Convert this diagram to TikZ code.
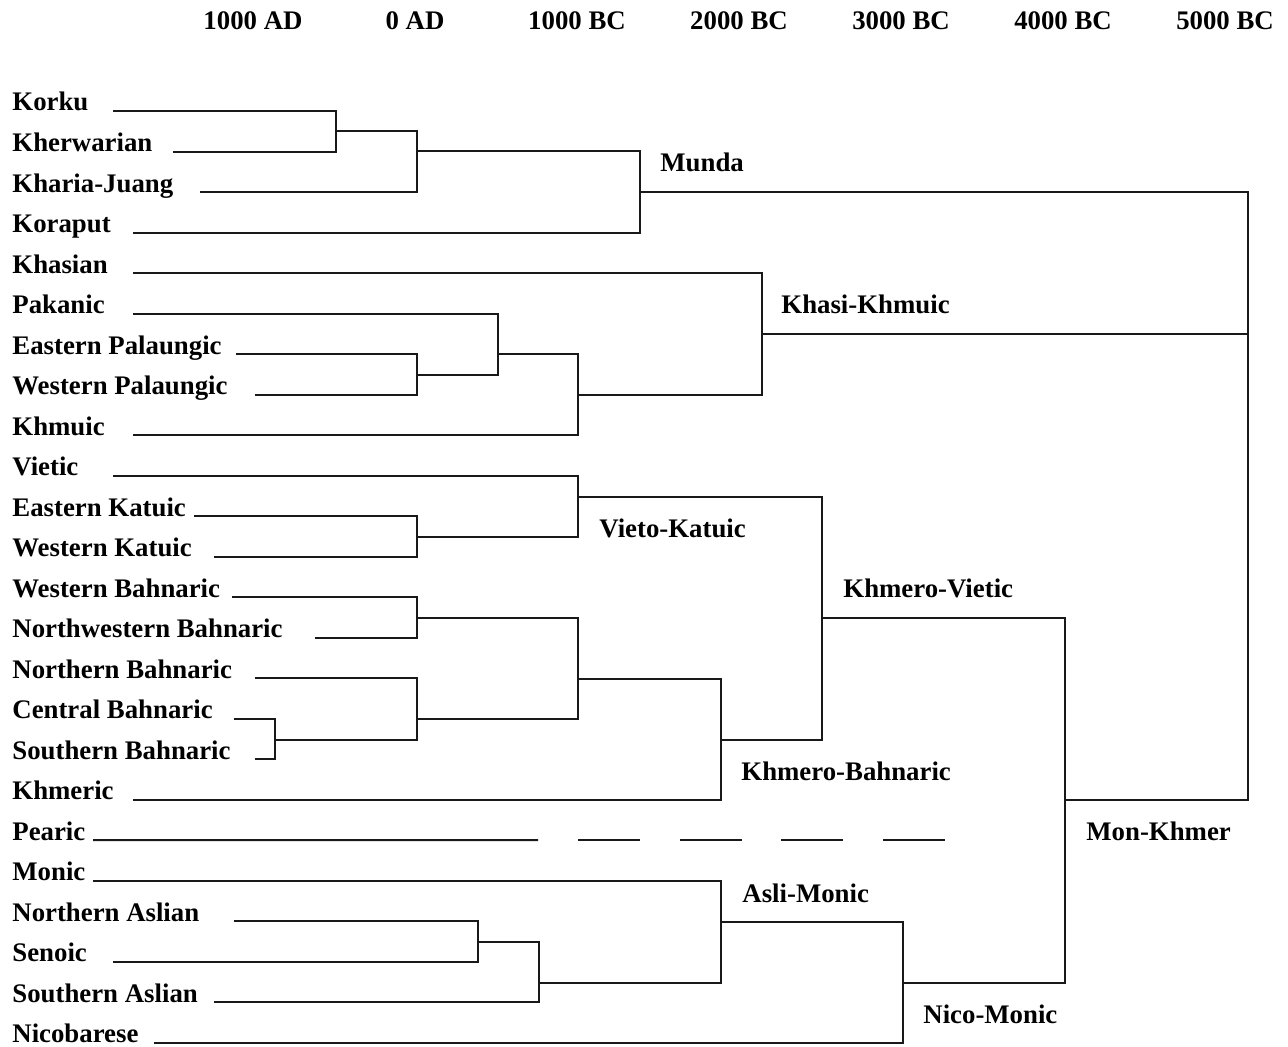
\documentclass[tikz,border=0pt]{standalone}
\usepackage{fontspec}
\setmainfont{Liberation Serif}
\tikzset{
	lang/.style={anchor=base west, inner sep=0pt, font=\fontsize{13.4}{16}\selectfont\bfseries},
	clade/.style={lang},
	era/.style={anchor=base, inner sep=0pt, font=\fontsize{13.4}{16}\selectfont\bfseries},
	branch/.style={line width=1pt, draw=black!90}
}
\begin{document}
\begin{tikzpicture}[x=0.5pt,y=-0.5pt]
				\useasboundingbox (0,0) rectangle (1288,1047);
				
				\foreach \t [count=\i from 0] in {1000 AD,0 AD,1000 BC,2000 BC,3000 BC,4000 BC,5000 BC}
					\node[era] (era\i) at ({253+162*\i},29.5) {\t};
				
				\foreach \n/\t/\sx [count=\i from 0] in {korku/Korku/113, kherw/Kherwarian/173, kharia/Kharia-Juang/200, koraput/Koraput/133, khasian/Khasian/133, pakanic/Pakanic/133, epal/Eastern Palaungic/236, wpal/Western Palaungic/255, khmuic/Khmuic/133, vietic/Vietic/113, ekat/Eastern Katuic/194, wkat/Western Katuic/214, wbah/Western Bahnaric/232, nwbah/Northwestern Bahnaric/315, nbah/Northern Bahnaric/255, cbah/Central Bahnaric/234, sbah/Southern Bahnaric/255, khmeric/Khmeric/133, pearic/Pearic/93, monic/Monic/93, naslian/Northern Aslian/234, senoic/Senoic/113, saslian/Southern Aslian/214, nicob/Nicobarese/154}{
					\node[lang] (\n) at (12,{111+40.51*\i}) {\t};
					\coordinate (\n-s) at (\sx,{111+40.51*\i});
				}
				
				\coordinate (korku-j) at (336,131);
				\coordinate (kherw-j) at (417,151);
				\coordinate (munda-j) at (640,192);
				\coordinate (palaung-j) at (417,375);
				\coordinate (pakan-j) at (498,354);
				\coordinate (khmu-j) at (578,395);
				\coordinate (khasi-j) at (762,334);
				\coordinate (root-j) at (1248,334);
				\coordinate (katu-j) at (417,537);
				\coordinate (vieto-j) at (578,497);
				\coordinate (wbah-j) at (417,618);
				\coordinate (csbah-j) at (275,740);
				\coordinate (nbah-j) at (417,719);
				\coordinate (bahn-j) at (578,679);
				\coordinate (khbah-j) at (721,740);
				\coordinate (khviet-j) at (822,618);
				\coordinate (monkh-j) at (1065,800);
				\coordinate (asl-j) at (478,942);
				\coordinate (sasl-j) at (539,983);
				\coordinate (aslimon-j) at (721,922);
				\coordinate (nico-j) at (903,983);
				
				\draw[branch] (korku-s) -| (korku-j) |- (kherw-s);
				\draw[branch] (korku-j) -| (kherw-j) |- (kharia-s);
				\draw[branch] (kherw-j) -| (munda-j) |- (koraput-s);
				\draw[branch] (epal-s) -| (palaung-j) |- (wpal-s);
				\draw[branch] (pakanic-s) -| (pakan-j) |- (palaung-j);
				\draw[branch] (pakan-j) -| (khmu-j) |- (khmuic-s);
				\draw[branch] (khasian-s) -| (khasi-j) |- (khmu-j);
				\draw[branch] (munda-j) -| (root-j) |- (monkh-j);
				\draw[branch] (khasi-j) -- (root-j);
				\draw[branch] (ekat-s) -| (katu-j) |- (wkat-s);
				\draw[branch] (vietic-s) -| (vieto-j) |- (katu-j);
				\draw[branch] (wbah-s) -| (wbah-j) |- (nwbah-s);
				\draw[branch] (cbah-s) -| (csbah-j) |- (sbah-s);
				\draw[branch] (nbah-s) -| (nbah-j) |- (csbah-j);
				\draw[branch] (wbah-j) -| (bahn-j) |- (nbah-j);
				\draw[branch] (bahn-j) -| (khbah-j) |- (khmeric-s);
				\draw[branch] (vieto-j) -| (khviet-j) |- (khbah-j);
				\draw[branch] (khviet-j) -| (monkh-j) |- (nico-j);
				\draw[branch] (naslian-s) -| (asl-j) |- (senoic-s);
				\draw[branch] (asl-j) -| (sasl-j) |- (saslian-s);
				\draw[branch] (monic-s) -| (aslimon-j) |- (sasl-j);
				\draw[branch] (aslimon-j) -| (nico-j) |- (nicob-s);
				
				\coordinate (pearic-e) at (538,840.2);
				\draw[branch] (pearic-s) -- (pearic-e);
				\foreach \dx in {40,142,243,345}
					\draw[branch] ([xshift=\dx*0.5pt]pearic-e) -- ++(62,0);
				
				\node[clade] (munda) at (660,172) {Munda};
				\node[clade] (khasi) at (781,314) {Khasi-Khmuic};
				\node[clade] (vieto) at (599,537) {Vieto-Katuic};
				\node[clade] (khviet) at (843,597) {Khmero-Vietic};
				\node[clade] (khbah) at (741,780) {Khmero-Bahnaric};
				\node[clade] (monkh) at (1086,840.5) {Mon-Khmer};
				\node[clade] (aslimon) at (742,902) {Asli-Monic};
				\node[clade] (nico) at (923,1023) {Nico-Monic};
			\end{tikzpicture}
\end{document}
